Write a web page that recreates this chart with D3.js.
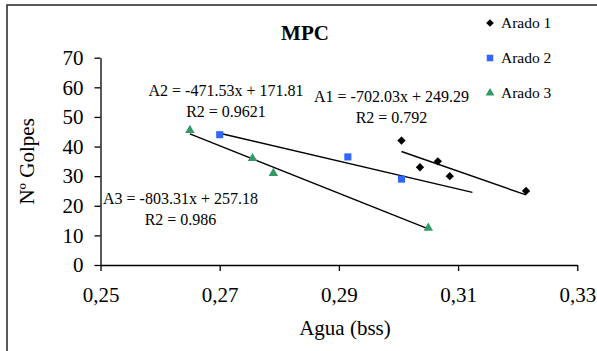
<!DOCTYPE html>
<html lang="es">
<head>
    <meta charset="UTF-8">
    <title>MPC</title>
    <script src="https://d3js.org/d3.v7.min.js"></script>
    <style>
        body { margin: 0; background: #fff; }
        svg { display: block; font-family: "Liberation Serif", "Times New Roman", serif; }
    </style>
</head>
<body>
    <svg width="597" height="351"></svg>

    <script>
        // datos
        const seriesNames = ["Arado 1", "Arado 2", "Arado 3"];
        const arado1X = [0.3005, 0.3036, 0.3066, 0.3086, 0.3214];
        const arado1Y = [42, 33, 35, 30, 25];
        const arado2X = [0.2700, 0.2915, 0.3005];
        const arado2Y = [44, 36.5, 29];
        const arado3X = [0.2650, 0.2755, 0.2790, 0.3050];
        const arado3Y = [45.5, 36, 31, 12.5];

        // lineas de tendencia: pendiente, ordenada, rango x
        const trendSlope = [-702.03, -471.53, -803.31];
        const trendIntercept = [249.29, 171.81, 257.18];
        const trendFrom = [0.3005, 0.2700, 0.2650];
        const trendTo = [0.3214, 0.3124, 0.3050];
        const trendLabels = [
            ["A1 = -702.03x + 249.29", "R2 = 0.792"],
            ["A2 = -471.53x + 171.81", "R2 = 0.9621"],
            ["A3 = -803.31x + 257.18", "R2 = 0.986"]
        ];

        const xTicks = [0.25, 0.27, 0.29, 0.31, 0.33];
        const yTicks = [0, 10, 20, 30, 40, 50, 60, 70];

        const svg = d3.select("svg");
        const margin = { top: 57.7, right: 19.7, bottom: 86, left: 100.5 };
        const width = +svg.attr("width");
        const height = +svg.attr("height");

        const x = d3.scaleLinear().domain([0.25, 0.33]).range([margin.left, width - margin.right]);
        const y = d3.scaleLinear().domain([0, 70]).range([height - margin.bottom, margin.top]);

        const colors = ["#000000", "#3366ff", "#339966"];
        const symbols = [d3.symbolDiamond2, d3.symbolSquare2, d3.symbolTriangle2];
        const sizes = [44, 64, 64];

        // marco exterior (solo izquierda y arriba visibles)
        svg.append("path")
            .attr("d", `M7,${height} V5 H${width}`)
            .attr("fill", "none")
            .attr("stroke", "#222")
            .attr("stroke-width", 1.5);

        // ejes
        const fmt = d => d.toFixed(2).replace(".", ",");
        const xAxis = svg.append("g")
            .attr("transform", `translate(0,${y(0)})`)
            .call(d3.axisBottom(x).tickValues(xTicks).tickFormat(fmt).tickSize(6).tickSizeOuter(0));
        const yAxis = svg.append("g")
            .attr("transform", `translate(${x(0.25)},0)`)
            .call(d3.axisLeft(y).tickValues(yTicks).tickSize(6).tickSizeOuter(0));

        [xAxis, yAxis].forEach(g => {
            g.select(".domain").attr("stroke", "#000").attr("stroke-width", 1.3);
            g.selectAll(".tick line").attr("stroke", "#000").attr("stroke-width", 1.3);
            g.selectAll("text")
                .attr("font-family", "Liberation Serif, Times New Roman, serif")
                .attr("font-size", 21)
                .attr("fill", "#000");
        });
        xAxis.selectAll(".tick text").attr("dy", "0.71em").attr("y", 22);
        yAxis.selectAll(".tick text").attr("x", -17);

        // titulos
        svg.append("text")
            .attr("x", 305).attr("y", 40)
            .attr("text-anchor", "middle")
            .attr("font-size", 21).attr("font-weight", "bold")
            .text("MPC");

        svg.append("text")
            .attr("x", 345).attr("y", 335)
            .attr("text-anchor", "middle")
            .attr("font-size", 21)
            .text("Agua (bss)");

        svg.append("text")
            .attr("transform", `translate(34,${(y(0) + y(70)) / 2}) rotate(-90)`)
            .attr("text-anchor", "middle")
            .attr("font-size", 21)
            .text("Nº Golpes");

        // lineas de tendencia
        const line = d3.line().x(d => x(d[0])).y(d => y(d[1]));
        trendSlope.forEach((m, i) => {
            const pts = [trendFrom[i], trendTo[i]].map(v => [v, m * v + trendIntercept[i]]);
            svg.append("path")
                .attr("d", line(pts))
                .attr("stroke", "#000")
                .attr("stroke-width", 1.4)
                .attr("fill", "none");
        });

        // puntos
        const series = [[arado1X, arado1Y], [arado2X, arado2Y], [arado3X, arado3Y]];
        series.forEach(([xs, ys], i) => {
            svg.append("g").selectAll("path")
                .data(xs.map((v, j) => [v, ys[j]]))
                .join("path")
                .attr("transform", d => `translate(${x(d[0])},${y(d[1])})`)
                .attr("d", d3.symbol(symbols[i], sizes[i]))
                .attr("fill", colors[i]);
        });

        // ecuaciones
        const labelPos = [[391.5, 101.5], [226, 95.5], [180.5, 203.5]];
        trendLabels.forEach((lines, i) => {
            lines.forEach((t, k) => {
                svg.append("text")
                    .attr("x", labelPos[i][0])
                    .attr("y", labelPos[i][1] + k * 21)
                    .attr("text-anchor", "middle")
                    .attr("font-size", 16)
                    .text(t);
            });
        });

        // leyenda
        const legend = svg.append("g").attr("transform", "translate(490,23)");
        seriesNames.forEach((name, i) => {
            const row = legend.append("g").attr("transform", `translate(0,${i * 35})`);
            row.append("path")
                .attr("d", d3.symbol(symbols[i], sizes[i] * 0.85))
                .attr("fill", colors[i]);
            row.append("text")
                .attr("x", 11).attr("y", 5)
                .attr("font-size", 15.5)
                .text(name);
        });
    </script>
</body>
</html>
